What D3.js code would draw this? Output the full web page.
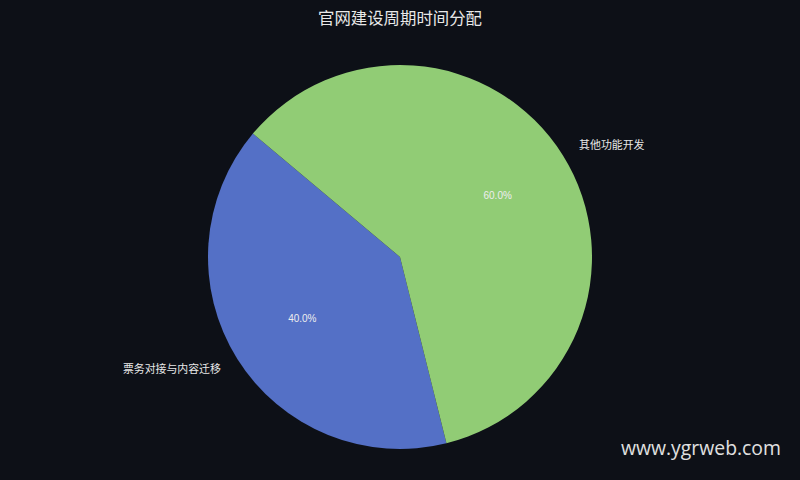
<!DOCTYPE html>
<html>
<head>
<meta charset="utf-8">
<script src="https://cdn.jsdelivr.net/npm/d3@7"></script>
<style>
  body { margin: 0; background: #0d1017; }
  svg { display: block; }
</style>
</head>
<body>
<div id="chart"></div>
<script>
const title = "官网建设周期时间分配";
const categories = ["票务对接与内容迁移", "其他功能开发"];
const values = [40, 60];
const colors = ["#5470c6", "#91cc75"];

const w = 800;
const h = 480;
const cx = 400;
const cy = 257;
const radius = 192;

const svg = d3.select("#chart")
  .append("svg")
  .attr("width", w)
  .attr("height", h);

svg.append("rect")
  .attr("width", w)
  .attr("height", h)
  .attr("fill", "#0d1017");

svg.append("text")
  .attr("x", w / 2)
  .attr("y", 24)
  .attr("text-anchor", "middle")
  .attr("fill", "#e8e8e8")
  .style("font-family", "'Noto Sans CJK SC', sans-serif")
  .style("font-size", "16.4px")
  .text(title);

const data = categories.map((c, i) => ({ name: c, value: values[i], color: colors[i] }));

// first slice starts at the upper left and runs clockwise (matplotlib startangle 140)
const pie = d3.pie()
  .sort(null)
  .value(d => d.value)
  .startAngle(-194 * Math.PI / 180)
  .endAngle(166 * Math.PI / 180);

const arcs = pie(data);
const total = d3.sum(values);

const arc = d3.arc().innerRadius(0).outerRadius(radius);
const labelArc = d3.arc().innerRadius(radius * 1.1).outerRadius(radius * 1.1);
const pctArc = d3.arc().innerRadius(radius * 0.6).outerRadius(radius * 0.6);

const g = svg.append("g").attr("transform", `translate(${cx},${cy})`);

g.selectAll("path")
  .data(arcs)
  .enter()
  .append("path")
  .attr("d", arc)
  .attr("fill", d => d.data.color);

g.selectAll("text.label")
  .data(arcs)
  .enter()
  .append("text")
  .attr("class", "label")
  .attr("x", d => labelArc.centroid(d)[0])
  .attr("y", d => labelArc.centroid(d)[1])
  .attr("dy", "0.35em")
  .attr("text-anchor", d => labelArc.centroid(d)[0] < 0 ? "end" : "start")
  .attr("fill", "#e8e8e8")
  .style("font-family", "'Noto Sans CJK SC', sans-serif")
  .style("font-size", "10.9px")
  .text(d => d.data.name);

g.selectAll("text.pct")
  .data(arcs)
  .enter()
  .append("text")
  .attr("class", "pct")
  .attr("x", d => pctArc.centroid(d)[0])
  .attr("y", d => pctArc.centroid(d)[1])
  .attr("dy", "0.35em")
  .attr("text-anchor", "middle")
  .attr("fill", "#eeeeee")
  .style("font-family", "'Liberation Sans', Arial, sans-serif")
  .style("font-size", "10px")
  .text(d => (d.data.value / total * 100).toFixed(1) + "%");

svg.append("text")
  .attr("x", 781)
  .attr("y", 455)
  .attr("text-anchor", "end")
  .attr("fill", "#e0e0e0")
  .style("font-family", "'Open Sans', sans-serif")
  .style("font-size", "19.4px")
  .text("www.ygrweb.com");
</script>
</body>
</html>
